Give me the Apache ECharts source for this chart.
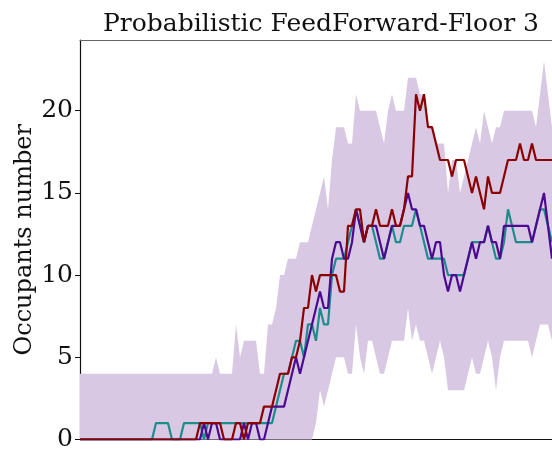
<!DOCTYPE html>
<html><head><meta charset="utf-8">
<script src="https://cdn.jsdelivr.net/npm/echarts@6/dist/echarts.min.js"></script>
<style>html,body{margin:0;padding:0;background:#fff}#c{width:552px;height:452px}</style>
</head><body><div id="c"></div>
<script>
const titleText = 'Probabilistic FeedForward-Floor 3';
const yName = 'Occupants number';
const yTicks = [0, 5, 10, 15, 20];
const redLine = [0,0,0,0,0,0,0,0,0,0,0,0,0,0,0,0,0,0,0,0,0,0,0,0,0,0,0,0,0,0,
  1,1,1,1,1,1,0,0,0,1,1,0,1,1,1,1,2,2,2,3,4,4,4,5,5,6,8,8,10,9,
  10,10,10,10,10,9,9,13,13,14,14,12,13,13,14,13,13,13,14,13,13,14,16,16,21,20,21,19,19,18,
  17,17,17,16,17,17,17,16,15,16,15,14,16,15,15,15,16,17,17,17,18,17,17,18,17,17,17,17,17];
const tealLine = [0,0,0,0,0,0,0,0,0,0,0,0,0,0,0,0,0,0,0,1,1,1,1,0,0,0,1,1,1,1,
  1,0,1,1,1,1,1,1,1,1,1,1,1,1,1,1,1,1,1,2,3,4,4,5,6,6,5,7,7,6,
  8,7,7,10,11,11,11,12,13,14,13,12,13,13,12,11,11,12,13,12,12,13,13,13,14,13,12,11,11,11,
  11,11,10,10,10,10,10,11,12,12,12,12,13,12,11,11,12,14,13,12,12,12,12,12,13,14,14,13,12];
const purpleLine = [0,0,0,0,0,0,0,0,0,0,0,0,0,0,0,0,0,0,0,0,0,0,0,0,0,0,0,0,0,0,
  0,1,0,1,1,0,0,0,0,0,0,1,0,1,1,0,0,1,2,2,2,2,3,4,5,4,5,6,7,8,
  9,8,8,11,12,12,11,11,12,14,13,12,13,13,13,12,11,12,13,13,13,14,15,14,14,13,13,12,11,12,
  12,10,9,10,10,9,10,11,12,11,12,12,13,12,12,11,13,13,13,13,13,13,13,12,13,14,15,13,11];
const bandUpper = [4,4,4,4,4,4,4,4,4,4,4,4,4,4,4,4,4,4,4,4,4,4,4,4,4,4,4,4,4,4,
  4,4,4,4,5,4,4,4,4,7,5,6,6,6,6,4,4,7,7,8,10,10,11,11,11,12,12,12,13,14,
  15,16,14,17,19,19,19,18,18,21,20,20,20,20,20,19,18,20,21,20,20,20,22,22,22,21,21,19,19,18,
  18,18,15,17,17,15,16,17,18,19,18,20,19,18,19,19,20,20,20,20,20,20,20,20,19,21,23,21,19];
const bandLower = [0,0,0,0,0,0,0,0,0,0,0,0,0,0,0,0,0,0,0,0,0,0,0,0,0,0,0,0,0,0,
  0,0,0,0,0,0,0,0,0,0,0,0,0,0,0,0,0,0,0,0,0,0,0,0,0,0,0,0,0,1,
  3,2,3,4,5,5,5,4,4,7,5,4,6,6,5,4,4,5,6,6,6,6,8,6,7,6,6,5,4,5,
  6,5,3,3,3,3,3,4,5,4,4,5,6,5,3,5,6,6,6,6,6,6,6,5,6,7,7,7,6];

const categories = redLine.map((_, i) => String(i));
const bandWidth = bandUpper.map((u, i) => u - bandLower[i]);
const serif = 'DejaVu Serif';

const chart = echarts.init(document.getElementById('c'), null, {renderer: 'canvas'});
chart.setOption({
  animation: false,
  backgroundColor: '#fff',
  title: {
    text: titleText, left: 316, top: 7, textAlign: 'center',
    textStyle: {fontFamily: serif, fontSize: 25, fontWeight: 'normal', color: '#111'}
  },
  grid: {left: 80, right: 0, top: 40, bottom: 11, show: false},
  xAxis: [{
    type: 'category', data: categories, boundaryGap: false,
    axisLine: {show: true, lineStyle: {color: '#111', width: 1.2}},
    axisTick: {show: false}, axisLabel: {show: false}, splitLine: {show: false}
  }, {
    type: 'category', data: categories, boundaryGap: false, position: 'top',
    axisLine: {show: true, lineStyle: {color: '#666', width: 1}},
    axisTick: {show: false}, axisLabel: {show: false}, splitLine: {show: false}
  }],
  yAxis: {
    type: 'value', min: 0, max: 24.3, interval: 5,
    name: yName, nameLocation: 'middle', nameGap: 43, nameRotate: 90, nameMoveOverlap: false,
    nameTextStyle: {fontFamily: serif, fontSize: 24, color: '#111'},
    axisLine: {show: true, lineStyle: {color: '#111', width: 1.2}},
    axisTick: {show: true, length: 5, lineStyle: {color: '#111', width: 1}, customValues: yTicks},
    axisLabel: {
      fontFamily: serif, fontSize: 25, color: '#111', margin: 7,
      customValues: yTicks
    },
    splitLine: {show: false}
  },
  series: [
    {type: 'line', data: bandLower, stack: 'band', symbol: 'none', lineStyle: {opacity: 0}, silent: true, z: 1},
    {type: 'line', data: bandWidth, stack: 'band', symbol: 'none', lineStyle: {opacity: 0},
     areaStyle: {color: '#d8c8e4', opacity: 1}, silent: true, z: 1},
    {type: 'line', data: tealLine, symbol: 'none', lineStyle: {color: '#1f8c8c', width: 2.2}, z: 3},
    {type: 'line', data: purpleLine, symbol: 'none', lineStyle: {color: '#4b0a8f', width: 2.2}, z: 4},
    {type: 'line', data: redLine, symbol: 'none', lineStyle: {color: '#8b0000', width: 2.2}, z: 5}
  ]
});
</script></body></html>
